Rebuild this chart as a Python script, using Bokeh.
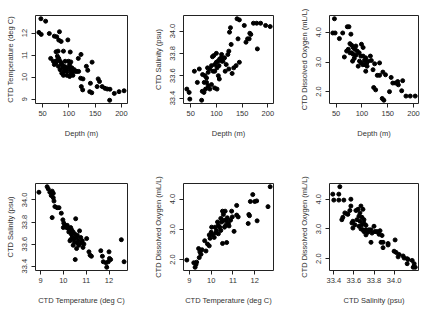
from bokeh.plotting import figure
from bokeh.layouts import gridplot
from bokeh.models import Range1d, FixedTicker
from bokeh.embed import file_html
from bokeh.resources import INLINE

# ---- Depth vs CTD temperature ----
depth_a = [46.8, 55.8, 43.0, 47.4, 62.8, 72.4, 76.9, 82.1, 80.8, 85.3, 98.1, 75.6, 79.5, 89.7,
           102.6, 123.1, 65.4, 70.5, 72.4, 75.0, 78.2, 80.8, 83.3, 86.5, 88.5, 91.0, 93.0, 94.9,
           96.2, 99.4, 101.4, 102.6, 103.8, 105.8, 107.7, 110.3, 112.2, 115.4, 118.6, 83.3, 86.5,
           89.7, 96.2, 101.4, 107.7, 93.0, 80.1, 76.9, 99.4, 103.8, 91.0, 85.3, 118.0, 133.3,
           135.9, 144.2, 122.4, 126.9, 123.7, 126.3, 141.0, 139.7, 143.6, 155.8, 158.3, 153.8,
           163.5, 168.6, 173.1, 178.2, 177.6, 186.5, 195.5, 205.1]
temp_a = [12.65, 12.54, 12.03, 11.94, 11.98, 11.86, 11.83, 12.06, 11.68, 11.62, 11.69, 11.15,
          11.18, 11.18, 11.14, 11.03, 10.85, 10.72, 10.57, 10.65, 10.95, 10.85, 10.72, 10.57,
          10.42, 10.49, 10.34, 10.45, 10.26, 10.42, 10.57, 10.34, 10.18, 10.42, 10.26, 10.34,
          10.26, 10.26, 10.26, 10.34, 10.18, 10.08, 10.08, 10.03, 10.08, 10.72, 10.49, 10.75,
          10.72, 10.69, 10.26, 10.65, 10.85, 10.49, 10.31, 10.68, 9.95, 9.92, 9.57, 9.42, 9.72,
          9.34, 9.29, 9.92, 9.80, 9.57, 9.57, 9.49, 9.46, 9.45, 8.95, 9.26, 9.34, 9.38]

# ---- Depth vs CTD salinity ----
depth_b = [42.3, 46.8, 48.1, 57.0, 66.6, 62.8, 71.1, 72.4, 75.6, 78.8, 76.2, 80.7, 83.9, 87.1,
           90.3, 96.6, 101.1, 73.0, 77.5, 80.7, 83.9, 87.1, 82.6, 90.3, 93.5, 96.6, 99.8, 103.0,
           106.2, 109.4, 112.6, 104.9, 101.1, 96.6, 103.7, 105.6, 94.7, 99.8, 92.2, 110.7, 115.8,
           119.0, 122.2, 124.1, 128.6, 125.4, 127.3, 117.0, 124.1, 130.5, 133.7, 138.2, 144.6,
           142.0, 140.1, 144.6, 154.2, 157.5, 160.6, 163.7, 165.0, 166.9, 179.7, 172.0, 178.4,
           186.0, 195.7, 204.6, 110.0]
sal_b = [33.48, 33.45, 33.39, 33.64, 33.66, 33.54, 33.38, 33.46, 33.45, 33.48, 33.54, 33.54,
         33.51, 33.48, 33.52, 33.49, 33.48, 33.61, 33.60, 33.58, 33.63, 33.66, 33.67, 33.69,
         33.64, 33.70, 33.72, 33.73, 33.75, 33.76, 33.73, 33.69, 33.67, 33.64, 33.60, 33.57,
         33.78, 33.80, 33.77, 33.73, 33.76, 33.70, 33.79, 33.82, 33.88, 33.99, 34.03, 33.64,
         33.66, 33.62, 33.67, 33.69, 33.72, 33.93, 34.11, 34.10, 34.05, 33.90, 33.93, 33.93,
         33.98, 33.97, 33.84, 34.07, 34.07, 34.07, 34.05, 34.04, 33.79]

# ---- Depth vs CTD dissolved oxygen ----
depth_c = [46.8, 43.6, 48.1, 56.4, 62.8, 71.7, 74.9, 78.7, 66.0, 70.4, 73.6, 76.8, 80.0, 83.2,
           86.4, 80.0, 76.8, 83.2, 81.9, 85.1, 88.3, 90.8, 88.3, 94.7, 99.1, 102.3, 97.8, 95.3,
           98.5, 101.7, 104.9, 106.2, 109.4, 92.8, 102.3, 107.4, 110.0, 111.9, 116.4, 118.3,
           107.4, 121.5, 124.7, 129.8, 134.2, 134.2, 122.8, 126.6, 139.3, 142.5, 140.6, 145.7,
           153.4, 156.6, 159.8, 164.9, 169.3, 170.6, 177.0, 178.9, 185.3, 193.6, 203.2]
oxy_c = [4.46, 3.98, 3.98, 3.79, 3.98, 4.19, 4.19, 3.94, 3.17, 3.37, 3.43, 3.62, 3.57, 3.49,
         3.43, 3.31, 3.31, 3.26, 3.03, 3.12, 3.23, 3.37, 3.54, 3.31, 3.60, 3.49, 3.20, 3.03,
         2.97, 2.91, 3.05, 2.91, 2.97, 2.86, 3.20, 3.14, 2.86, 3.03, 3.20, 3.05, 2.69, 2.74,
         2.94, 2.55, 2.55, 2.97, 2.14, 2.06, 1.77, 1.71, 2.66, 2.57, 2.00, 2.48, 2.29, 2.29,
         2.34, 2.23, 2.03, 2.37, 1.85, 1.85, 1.85]

# ---- CTD temperature vs CTD salinity ----
temp_d = [8.93, 9.29, 9.34, 9.41, 9.51, 9.56, 9.47, 9.56, 9.59, 9.63, 9.73, 9.81, 9.51, 9.91,
          9.98, 10.02, 10.07, 10.00, 10.17, 10.22, 10.32, 10.24, 10.35, 10.43, 10.51, 10.39,
          10.29, 10.46, 10.54, 10.58, 10.65, 10.71, 10.76, 10.61, 10.68, 10.80, 10.90, 10.83,
          11.02, 10.49, 10.43, 10.58, 10.52, 11.12, 11.17, 11.23, 11.64, 11.71, 11.75, 11.87,
          11.90, 11.97, 12.00, 12.02, 12.07, 12.54, 12.66, 10.36, 10.14, 10.61, 10.32, 10.86]
sal_d = [34.07, 34.12, 34.10, 34.07, 34.08, 34.06, 34.04, 34.02, 33.99, 33.94, 33.93, 33.93,
         33.84, 33.88, 33.82, 33.79, 33.77, 33.75, 33.77, 33.74, 33.75, 33.71, 33.69, 33.71,
         33.69, 33.66, 33.63, 33.65, 33.83, 33.66, 33.63, 33.72, 33.66, 33.61, 33.59, 33.61,
         33.60, 33.63, 33.65, 33.62, 33.59, 33.56, 33.46, 33.53, 33.50, 33.49, 33.54, 33.49,
         33.44, 33.43, 33.39, 33.44, 33.53, 33.47, 33.46, 33.64, 33.44, 33.73, 33.75, 33.68,
         33.64, 33.57]

# ---- CTD temperature vs CTD dissolved oxygen ----
temp_e = [8.88, 9.20, 9.26, 9.30, 9.33, 9.45, 9.42, 9.48, 9.53, 9.58, 9.76, 9.70, 9.83, 9.91,
          9.95, 9.91, 10.00, 10.06, 10.02, 10.14, 10.21, 10.24, 10.33, 10.33, 10.39, 10.44,
          10.48, 10.52, 10.56, 10.64, 10.58, 10.67, 10.70, 10.79, 10.82, 10.89, 10.94, 10.97,
          11.05, 11.17, 11.17, 11.24, 10.52, 10.71, 11.70, 11.73, 11.76, 11.80, 11.91, 12.00,
          12.09, 12.11, 12.61, 12.71, 10.29, 10.18, 10.61, 10.74, 10.44]
oxy_e = [1.98, 1.89, 1.74, 1.83, 1.91, 2.06, 2.36, 2.25, 2.17, 2.32, 2.28, 2.62, 2.51, 2.45,
         2.70, 2.81, 2.90, 2.82, 3.07, 2.73, 2.88, 2.96, 2.85, 3.13, 3.07, 2.96, 3.24, 3.60,
         3.49, 3.60, 3.30, 3.13, 3.27, 3.19, 3.11, 3.30, 3.60, 3.41, 2.93, 3.79, 3.47, 3.41,
         2.53, 2.56, 3.19, 3.49, 3.45, 3.92, 4.15, 3.92, 3.94, 3.28, 3.75, 4.41, 3.24, 3.07,
         3.07, 3.38, 3.36]

# ---- CTD salinity vs CTD dissolved oxygen ----
sal_f = [33.39, 33.40, 33.46, 33.45, 33.45, 33.50, 33.48, 33.49, 33.51, 33.53, 33.54, 33.57,
         33.57, 33.56, 33.58, 33.59, 33.61, 33.62, 33.64, 33.67, 33.66, 33.69, 33.65, 33.68,
         33.70, 33.63, 33.66, 33.70, 33.72, 33.65, 33.67, 33.69, 33.70, 33.72, 33.74, 33.68,
         33.75, 33.77, 33.78, 33.80, 33.77, 33.81, 33.83, 33.85, 33.86, 33.88, 33.87, 33.89,
         33.89, 33.94, 33.94, 34.01, 34.00, 34.02, 34.04, 34.05, 34.09, 34.10, 34.13, 34.13,
         34.14, 34.18, 34.19, 34.21, 34.20, 33.59, 33.72]
oxy_f = [4.17, 3.97, 4.42, 4.17, 3.97, 3.97, 3.31, 3.39, 3.54, 3.51, 3.49, 4.00, 3.77, 3.62,
         3.20, 3.26, 3.14, 3.62, 3.66, 3.77, 3.54, 3.66, 3.43, 3.39, 3.31, 3.31, 3.26, 3.20,
         3.12, 3.09, 3.00, 2.97, 2.91, 2.97, 2.89, 3.14, 2.97, 2.97, 2.86, 3.09, 2.55, 2.91,
         2.91, 2.82, 2.94, 2.78, 2.55, 2.55, 2.37, 2.51, 2.46, 2.63, 2.25, 2.21, 2.06, 2.14,
         2.09, 2.02, 2.00, 1.83, 1.97, 1.94, 1.71, 1.71, 1.83, 3.03, 2.80]

# ---- axis ticks and labels ----
depth_ticks = [50, 100, 150, 200]
depth_tick_labels = ["50", "100", "150", "200"]
temp_ticks = [9, 10, 11, 12]
temp_tick_labels = ["9", "10", "11", "12"]
sal_ticks = [33.4, 33.6, 33.8, 34.0]
sal_tick_labels = ["33.4", "33.6", "33.8", "34.0"]
oxy_ticks = [2.0, 3.0, 4.0]
oxy_tick_labels = ["2.0", "3.0", "4.0"]

depth_title = "Depth (m)"
temp_title = "CTD Temperature (deg C)"
sal_title = "CTD Salinity (psu)"
oxy_title = "CTD Dissolved Oxygen (mL/L)"

FONT = "Liberation Sans"
FONT_SIZE = "7.5px"
TEXT_COLOR = "#333333"

# column widths / borders and row heights / borders of the 2 x 3 grid
COLS = [(150, 35, 23), (146, 31, 23), (126, 30, 4)]
ROWS = [(160, 15, 57), (149, 23, 39)]


def padded(vals, frac=0.04):
    lo, hi = min(vals), max(vals)
    pad = (hi - lo) * frac
    return Range1d(lo - pad, hi + pad)


def style_axis(axis, ticks, labels, vertical=False):
    axis.ticker = FixedTicker(ticks=ticks)
    axis.major_label_overrides = {t: l for t, l in zip(ticks, labels)}
    axis.axis_line_color = None
    axis.major_tick_line_color = "#222222"
    axis.major_tick_in = 0
    axis.major_tick_out = 4
    axis.minor_tick_line_color = None
    axis.major_label_text_font = FONT
    axis.major_label_text_font_size = FONT_SIZE
    axis.major_label_text_color = TEXT_COLOR
    axis.axis_label_text_font = FONT
    axis.axis_label_text_font_size = FONT_SIZE
    axis.axis_label_text_font_style = "normal"
    axis.axis_label_text_color = TEXT_COLOR
    if vertical:
        axis.major_label_orientation = "parallel"
        axis.major_label_standoff = 4
        axis.axis_label_standoff = 5
    else:
        axis.major_label_standoff = 3
        axis.axis_label_standoff = 10


def panel(x, y, xt, xl, yt, yl, xtitle, ytitle, col, row):
    w, bl, br = COLS[col]
    h, bt, bb = ROWS[row]
    p = figure(width=w, height=h, x_range=padded(x), y_range=padded(y),
               output_backend="svg", toolbar_location=None,
               min_border_left=bl, min_border_right=br,
               min_border_top=bt, min_border_bottom=bb,
               x_axis_label=xtitle, y_axis_label=ytitle)
    p.grid.visible = False
    p.outline_line_color = "#222222"
    p.outline_line_width = 1
    p.outline_line_alpha = 1
    style_axis(p.xaxis[0], xt, xl)
    style_axis(p.yaxis[0], yt, yl, vertical=True)
    p.scatter(x, y, marker="circle", size=4.0, color="black")
    return p


p1 = panel(depth_a, temp_a, depth_ticks, depth_tick_labels, temp_ticks, temp_tick_labels,
           depth_title, temp_title, 0, 0)
p2 = panel(depth_b, sal_b, depth_ticks, depth_tick_labels, sal_ticks, sal_tick_labels,
           depth_title, sal_title, 1, 0)
p3 = panel(depth_c, oxy_c, depth_ticks, depth_tick_labels, oxy_ticks, oxy_tick_labels,
           depth_title, oxy_title, 2, 0)
p4 = panel(temp_d, sal_d, temp_ticks, temp_tick_labels, sal_ticks, sal_tick_labels,
           temp_title, sal_title, 0, 1)
p5 = panel(temp_e, oxy_e, temp_ticks, temp_tick_labels, oxy_ticks, oxy_tick_labels,
           temp_title, oxy_title, 1, 1)
p6 = panel(sal_f, oxy_f, sal_ticks, sal_tick_labels, oxy_ticks, oxy_tick_labels,
           sal_title, oxy_title, 2, 1)

grid = gridplot([[p1, p2, p3], [p4, p5, p6]], toolbar_location=None)

open("out.html", "w").write(file_html(grid, INLINE))
